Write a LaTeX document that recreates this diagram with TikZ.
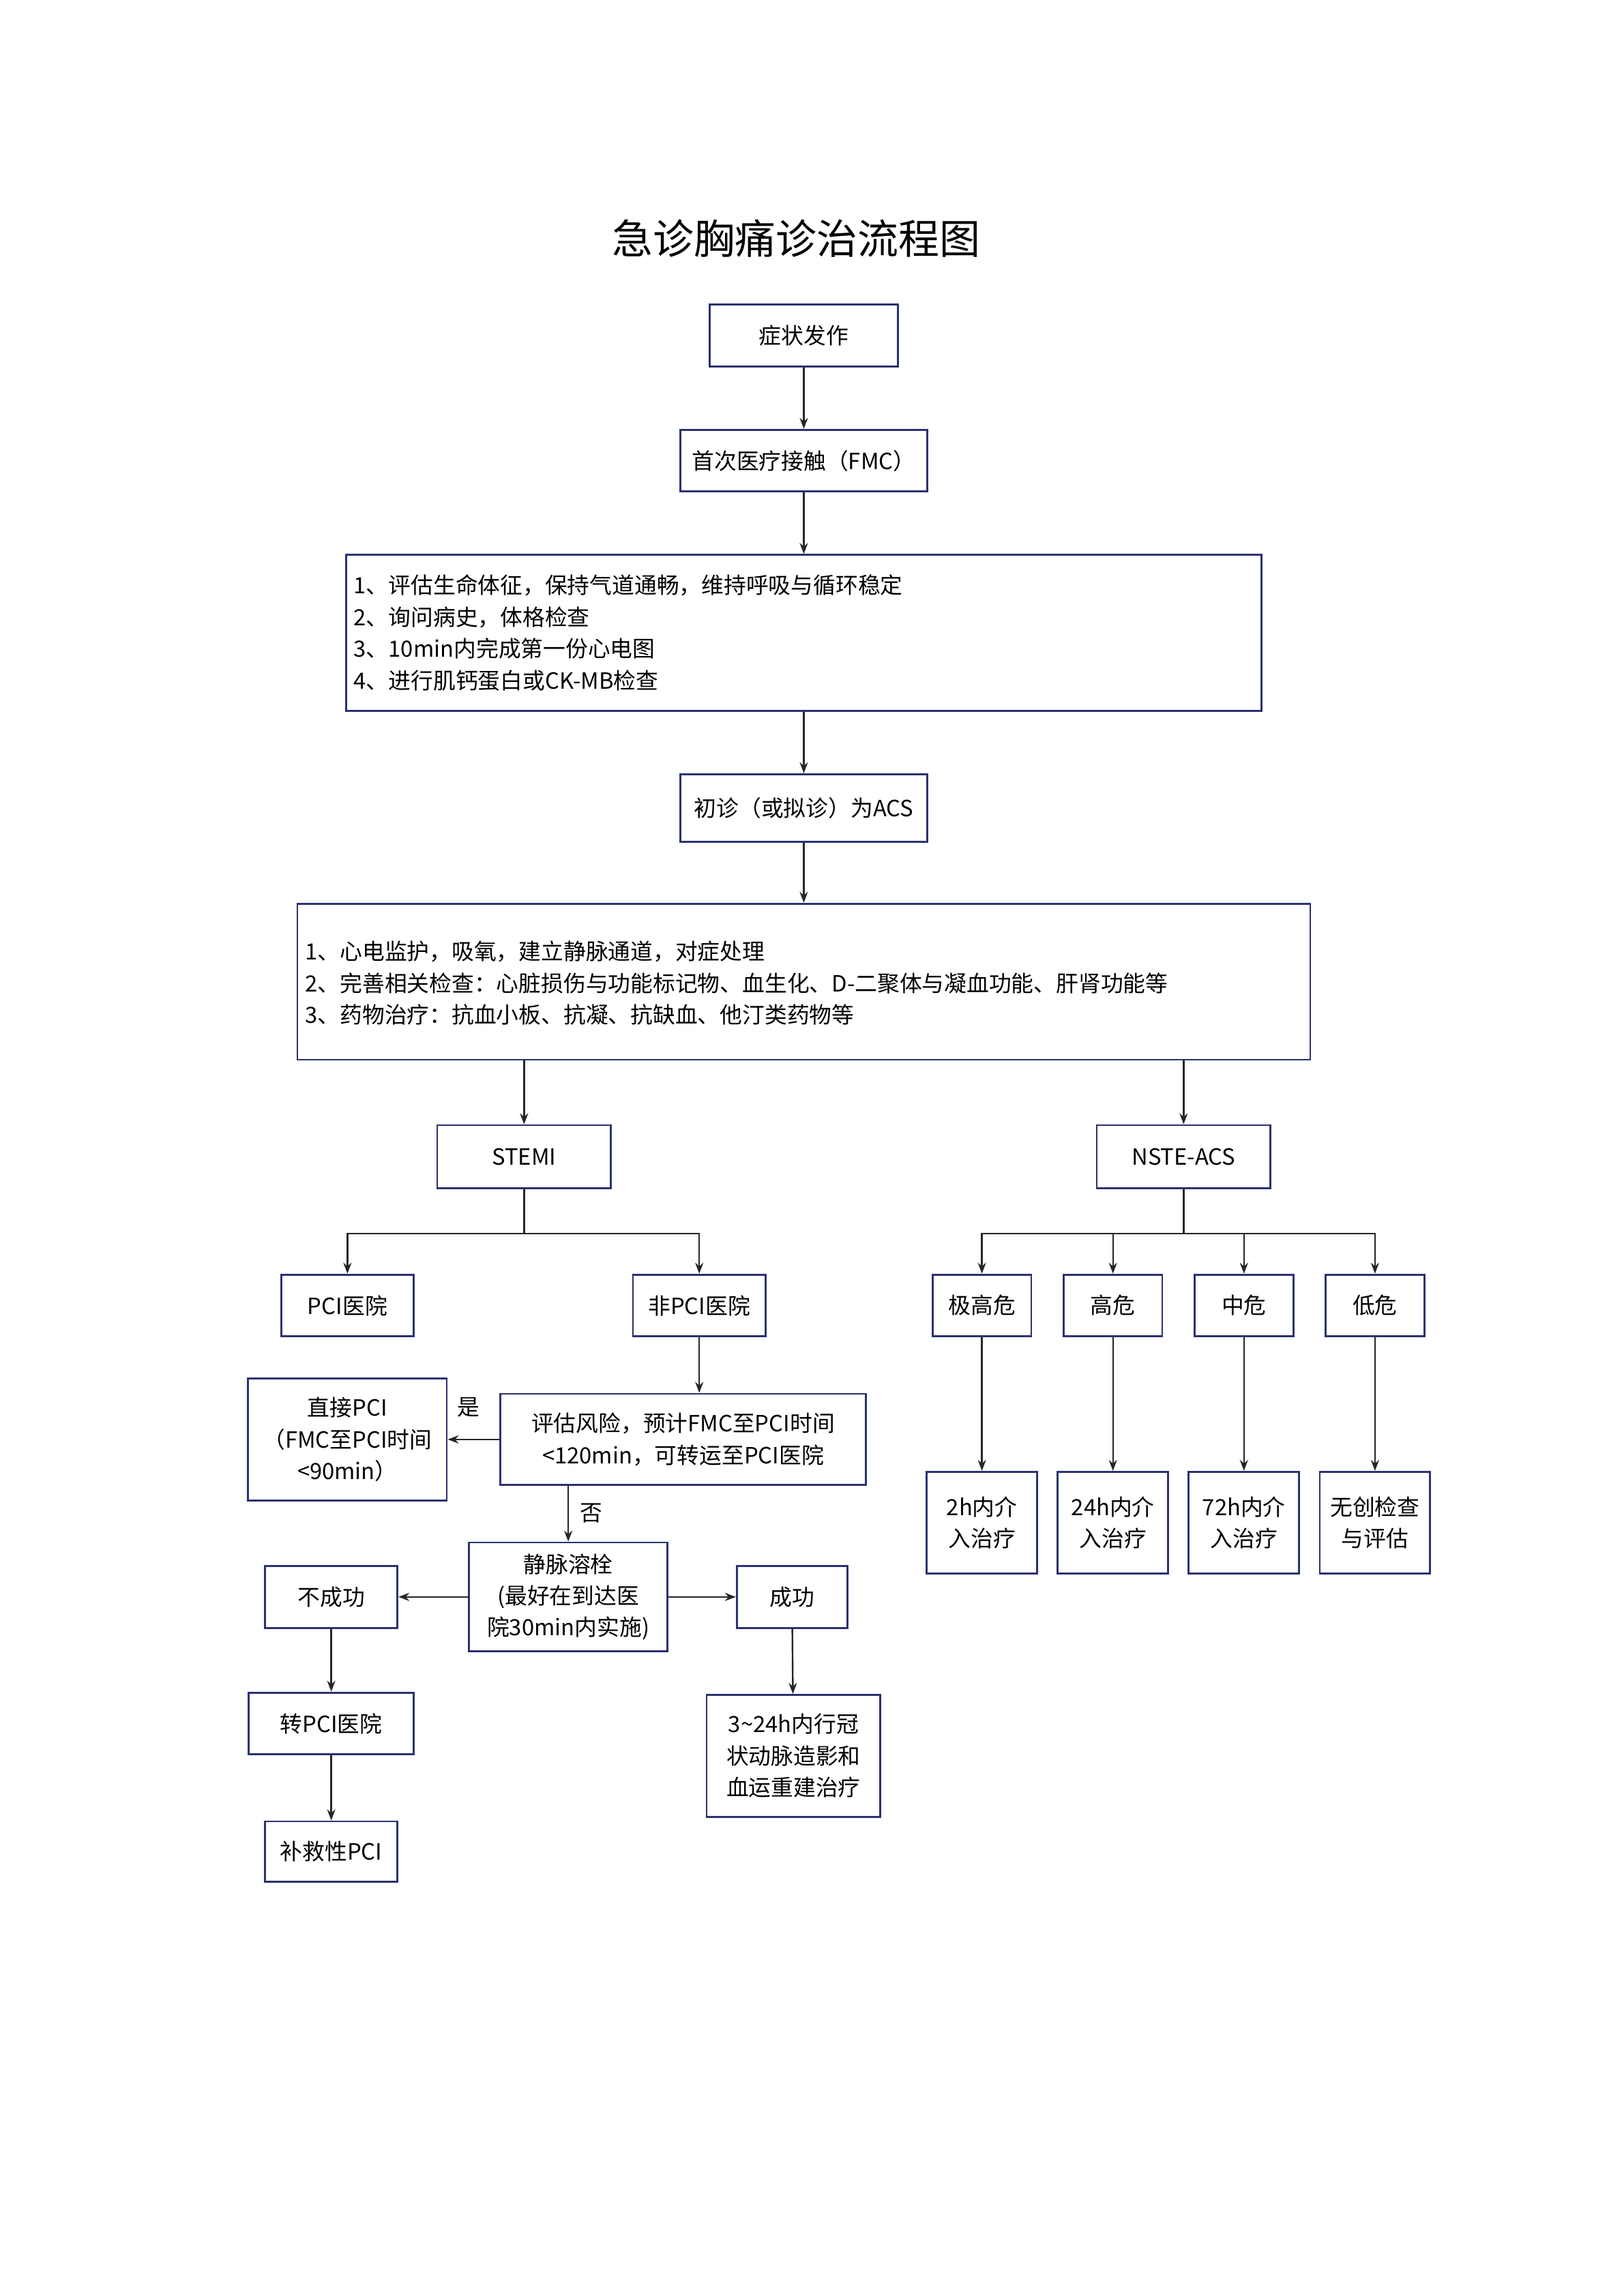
\documentclass[tikz,border=0pt]{standalone}
\usepackage{fontspec}
\setmainfont{Noto Sans CJK SC}
\usetikzlibrary{arrows.meta}
\definecolor{bd}{HTML}{2B3270}
\begin{document}
\begin{tikzpicture}[x=0.54pt,y=-0.54pt,
 bx/.style={draw=bd,line width=0.7pt,inner sep=0pt,font=\fontsize{8.2}{11.6}\selectfont,align=center},
 ar/.style={-{Stealth[length=4pt,width=3pt]},line width=0.6pt,draw=black!85},
 ln/.style={line width=0.6pt,draw=black!85},
 lb/.style={font=\fontsize{8.2}{10}\selectfont,inner sep=0pt}]
\useasboundingbox (0,0) rectangle (1103,1560);
\node[font=\fontsize{15}{18}\selectfont] (title) at (541,162) {急诊胸痛诊治流程图};
\node[bx,minimum width=128*0.54pt,minimum height=42*0.54pt] (a) at (546,228) {症状发作};
\node[bx,minimum width=168*0.54pt,minimum height=42*0.54pt] (b) at (546,313) {首次医疗接触（FMC）};
\node[bx,minimum width=622*0.54pt,minimum height=106*0.54pt] (c) at (546,430) {};
\node[lb,anchor=west,align=left,font=\fontsize{8.2}{11.6}\selectfont] (ct) at (240,430) {1、评估生命体征，保持气道通畅，维持呼吸与循环稳定\\2、询问病史，体格检查\\3、10min内完成第一份心电图\\4、进行肌钙蛋白或CK-MB检查};
\node[bx,minimum width=168*0.54pt,minimum height=46*0.54pt] (d) at (546,549) {初诊（或拟诊）为ACS};
\node[bx,minimum width=688*0.54pt,minimum height=106*0.54pt] (e) at (546,667) {};
\node[lb,anchor=west,align=left,font=\fontsize{8.2}{11.6}\selectfont] (et) at (207,668) {1、心电监护，吸氧，建立静脉通道，对症处理\\2、完善相关检查：心脏损伤与功能标记物、血生化、D-二聚体与凝血功能、肝肾功能等\\3、药物治疗：抗血小板、抗凝、抗缺血、他汀类药物等};
\node[bx,minimum width=118*0.54pt,minimum height=43*0.54pt] (st) at (356,786) {STEMI};
\node[bx,minimum width=118*0.54pt,minimum height=43*0.54pt] (ns) at (804,786) {NSTE-ACS};
\node[bx,minimum width=90*0.54pt,minimum height=42*0.54pt] (p) at (236,887) {PCI医院};
\node[bx,minimum width=90*0.54pt,minimum height=42*0.54pt] (np) at (475,887) {非PCI医院};
\node[bx,minimum width=135*0.54pt,minimum height=83*0.54pt] (dp) at (236,978) {直接PCI\\（FMC至PCI时间\\<90min）};
\node[bx,minimum width=248*0.54pt,minimum height=62*0.54pt] (ev) at (464,978) {评估风险，预计FMC至PCI时间\\<120min，可转运至PCI医院};
\node[bx,minimum width=135*0.54pt,minimum height=74*0.54pt] (th) at (386,1085) {静脉溶栓\\(最好在到达医\\院30min内实施)};
\node[bx,minimum width=90*0.54pt,minimum height=42*0.54pt] (fail) at (225,1085) {不成功};
\node[bx,minimum width=75*0.54pt,minimum height=42*0.54pt] (ok) at (538,1085) {成功};
\node[bx,minimum width=112*0.54pt,minimum height=42*0.54pt] (tr) at (225,1171) {转PCI医院};
\node[bx,minimum width=90*0.54pt,minimum height=41*0.54pt] (rs) at (225,1258) {补救性PCI};
\node[bx,minimum width=118*0.54pt,minimum height=83*0.54pt] (cg) at (539,1193) {3\textasciitilde24h内行冠\\状动脉造影和\\血运重建治疗};
\foreach \n/\x/\t/\bt in {r1/667/极高危/2h内介\\入治疗, r2/756/高危/24h内介\\入治疗, r3/845/中危/72h内介\\入治疗, r4/934/低危/无创检查\\与评估}{
 \node[bx,minimum width=67*0.54pt,minimum height=42*0.54pt] (\n) at (\x,887) {\t};
 \node[bx,minimum width=75*0.54pt,minimum height=69*0.54pt] (\n b) at (\x,1034.5) {\bt};
 \draw[ar] (\n) -- (\n b);
}
\draw[ar] (a) -- (b);
\draw[ar] (b) -- (c);
\draw[ar] (c) -- (d);
\draw[ar] (d) -- (e);
\draw[ar] (st.north |- e.south) -- (st);
\draw[ar] (ns.north |- e.south) -- (ns);
\coordinate (sj) at (356,838);
\draw[ln] (st) -- (sj);
\draw[ar] (sj) -| (p);
\draw[ar] (sj) -| (np);
\coordinate (nj) at (804,838);
\draw[ln] (ns) -- (nj);
\foreach \n in {r1,r2,r3,r4} \draw[ar] (nj) -| (\n);
\draw[ar] (np) -- (np |- ev.north);
\draw[ar] (ev) -- node[lb,above=8pt,pos=0.6] (yes) {是} (dp);
\draw[ar] (386,1009) -- node[lb,right=4pt] (no) {否} (th);
\draw[ar] (th) -- (fail);
\draw[ar] (th) -- (ok);
\draw[ar] (fail) -- (tr);
\draw[ar] (tr) -- (rs);
\draw[ar] (ok) -- (cg);
\end{tikzpicture}
\end{document}
